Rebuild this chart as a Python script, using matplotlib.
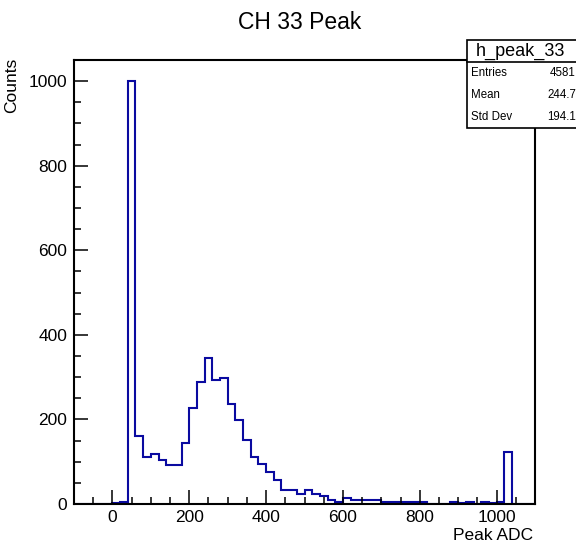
import numpy as np
import matplotlib
matplotlib.use("Agg")
import matplotlib.pyplot as plt
from matplotlib.patches import Rectangle
from matplotlib.lines import Line2D
from matplotlib.ticker import MultipleLocator

plt.rcParams["font.family"] = ["Liberation Sans", "DejaVu Sans"]

# histogram h_peak_33: 60 bins of width 20 from -100 to 1100
x_min, x_max, n_bins = -100, 1100, 60
counts = [
    0, 0, 0, 0, 0,                      # -100 .. 0
    3, 4, 1000, 161, 112,               # 0 .. 100
    118, 103, 93, 93, 145,              # 100 .. 200
    227, 289, 345, 293, 298,            # 200 .. 300
    237, 199, 152, 112, 94,             # 300 .. 400
    75, 57, 33, 33, 24,                 # 400 .. 500
    33, 24, 19, 9, 4,                   # 500 .. 600
    14, 9, 10, 9, 9,                    # 600 .. 700
    4, 4, 4, 4, 4,                      # 700 .. 800
    4, 0, 0, 0, 4,                      # 800 .. 900
    3, 4, 0, 4, 3,                      # 900 .. 1000
    4, 123, 0, 0, 0,                    # 1000 .. 1100
]
stats_name = "h_peak_33"
stats_rows = [("Entries", "4581"), ("Mean", "244.7"), ("Std Dev", "194.1")]

edges = np.linspace(x_min, x_max, n_bins + 1)

W, H = 576, 543
fig = plt.figure(figsize=(W / 100, H / 100), dpi=100)
ax = fig.add_axes([74 / W, 1 - 504 / H, (535 - 74) / W, (504 - 60) / H])

ax.stairs(counts, edges, color="#0a0aa0", lw=1.5, baseline=0, zorder=1)

ax.set_xlim(x_min, x_max)
ax.set_ylim(0, 1.05 * max(counts))
ax.xaxis.set_major_locator(MultipleLocator(200))
ax.xaxis.set_minor_locator(MultipleLocator(50))
ax.yaxis.set_major_locator(MultipleLocator(200))
ax.yaxis.set_minor_locator(MultipleLocator(50))
ax.tick_params(which="both", direction="in", top=False, right=False,
               width=1.1, labelsize=12.5, colors="black")
ax.tick_params(which="major", length=10)
ax.tick_params(which="minor", length=5)
ax.tick_params(axis="y", pad=5)
ax.tick_params(axis="x", pad=4)
for s in ax.spines.values():
    s.set_linewidth(1.5)
    s.set_zorder(3)

fig.text(533 / W, 1 - 536 / H, "Peak ADC", ha="right", va="center", fontsize=12.5)
fig.text(12 / W, 1 - 58 / H, "Counts", rotation=90, ha="center", va="top", fontsize=12.5)
fig.text(300 / W, 1 - 29 / H, "CH 33 Peak", ha="center", va="baseline", fontsize=16.5)

# stats box (partly outside the canvas on the right, as in ROOT)
box_l, box_t, box_sep, box_b = 467, 40, 62, 128
fig.patches.append(Rectangle((box_l / W, 1 - box_b / H), (600 - box_l) / W, (box_b - box_t) / H,
                             transform=fig.transFigure, facecolor="white",
                             edgecolor="black", lw=1.2, zorder=5))
fig.lines.append(Line2D([box_l / W, 1.0], [1 - box_sep / H] * 2,
                        transform=fig.transFigure, color="black", lw=1.2, zorder=6))
fig.text(520 / W, 1 - 51 / H, stats_name, ha="center", va="center", fontsize=13, zorder=7)
row_h = (box_b - box_sep) / len(stats_rows)
for i, (name, val) in enumerate(stats_rows):
    y = 1 - (box_sep + row_h * (i + 0.5)) / H
    fig.text(471 / W, y, name, ha="left", va="center", fontsize=8.3, zorder=7)
    fig.text(576 / W, y, val, ha="right", va="center", fontsize=8.3, zorder=7)

fig.savefig("out.png", dpi=100)
